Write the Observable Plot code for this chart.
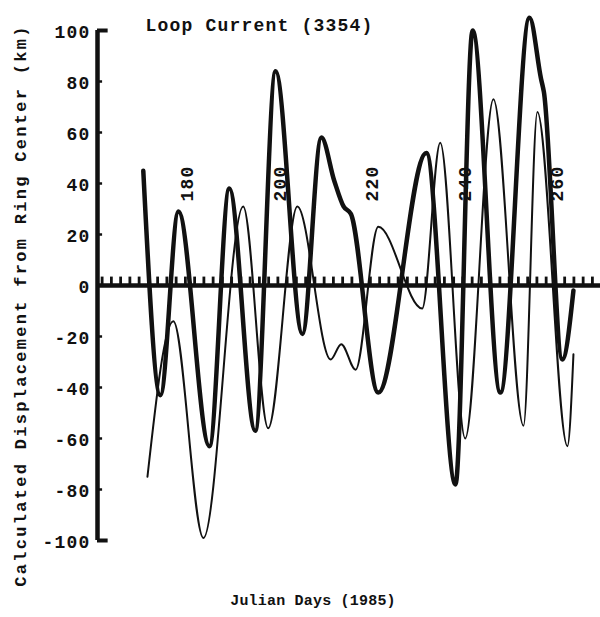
<!DOCTYPE html>
<html><head><meta charset="utf-8">
<script src="https://cdn.jsdelivr.net/npm/d3@7"></script>
<script src="https://cdn.jsdelivr.net/npm/@observablehq/plot@0.6"></script>
<style>body{margin:0;background:#fff}</style>
</head><body><div id="chart"></div>
<script>
// Thick curve (Julian day, displacement km)
const thickDays   = [170.9, 174.6, 178.5, 185.2, 189.5, 195.1, 199.5, 205.3, 209.4, 212.2, 214.2, 215.8, 221.7, 232.1, 238.4, 242.1, 248.1, 254.4, 256.9, 257.5, 261.5, 263.9];
const thickValues = [45, -43, 29, -63, 38, -57, 84, -19, 58, 41, 31, 28, -42, 52, -78, 100, -42, 105, 81, 76, -29, -2];
// Thin curve
const thinDays   = [171.8, 177.4, 183.9, 192.5, 197.9, 204.2, 211.4, 213.7, 216.8, 221.7, 231.2, 235.1, 240.5, 246.6, 253.1, 256.1, 262.6, 263.9];
const thinValues = [-75, -14, -99, 31, -56, 31, -29, -23, -33, 23, -9, 56, -60, 73, -55, 68, -63, -27];

const yTickValues = [100, 80, 60, 40, 20, 0, -20, -40, -60, -80, -100];
const xLabelDays = [180, 200, 220, 240, 260];
const xTickDays = [162,164,166,168,170,172,174,176,178,180,182,184,186,188,190,192,194,196,198,200,202,204,206,208,210,212,214,216,218,220,222,224,226,228,230,232,234,236,238,240,242,244,246,248,250,252,254,256,258,260,262,264,266,268];
const xDomain = [161, 269.75];
const yDomain = [-100, 100];

const title = "Loop Current (3354)";
const xTitle = "Julian Days (1985)";
const yTitle = "Calculated Displacement from Ring Center (km)";

const thick = thickDays.map((d, i) => ({day: d, value: thickValues[i]}));
const thin = thinDays.map((d, i) => ({day: d, value: thinValues[i]}));
const ink = "#111";

const chart = Plot.plot({
  width: 600, height: 617,
  marginLeft: 97, marginRight: 0, marginTop: 30, marginBottom: 77,
  x: {domain: xDomain, axis: null},
  y: {domain: yDomain, axis: null},
  style: {fontFamily: "'Liberation Mono', monospace", background: "#fff", color: ink},
  marks: [
    Plot.ruleY([0], {stroke: ink, strokeWidth: 4.5}),
    Plot.ruleX(xTickDays, {x: d => d, y1: 0, y2: 3.3, stroke: ink, strokeWidth: 2.8}),
    Plot.ruleX([xDomain[0]], {y1: yDomain[0], y2: yDomain[1], stroke: ink, strokeWidth: 4.5}),
    Plot.ruleY(yTickValues, {y: d => d, x1: xDomain[0], x2: d => Math.abs(d) === 100 ? xDomain[0] + 2.3 : xDomain[0] + 1.1, stroke: ink, strokeWidth: d => Math.abs(d) === 100 ? 4 : 2.5}),
    Plot.text(yTickValues, {x: xDomain[0], y: d => d, text: d => String(d), textAnchor: "end", dx: -7, dy: 2, fontSize: 18, fontWeight: "bold", fill: ink}),
    Plot.text(xLabelDays, {x: d => d + 0.4, y: 40, text: d => String(d), rotate: -90, fontSize: 18, fontWeight: "bold", fill: ink}),
    Plot.line(thin, {x: "day", y: "value", curve: "monotone-x", stroke: ink, strokeWidth: 2}),
    Plot.line(thick, {x: "day", y: "value", curve: "monotone-x", stroke: ink, strokeWidth: 4.5}),
    Plot.text([title], {frameAnchor: "top-left", textAnchor: "start", dx: 48, dy: -12, fontSize: 18, fontWeight: "bold", fill: ink}),
    Plot.text([xTitle], {frameAnchor: "bottom", textAnchor: "middle", dx: -36, dy: 64, fontSize: 15, fontWeight: "bold", fill: ink}),
    Plot.text([yTitle], {frameAnchor: "left", textAnchor: "middle", rotate: -90, dx: -77, dy: 20, fontSize: 17, fontWeight: "bold", fill: ink})
  ]
});
document.getElementById("chart").appendChild(chart);
chart.querySelectorAll("text").forEach(t => {
  const s = t.textContent;
  if (s === yTitle) t.style.letterSpacing = "2.3px";
  else if (s === xTitle) t.style.letterSpacing = "0.2px";
  else t.style.letterSpacing = "1.2px";
});
</script>
</body></html>
